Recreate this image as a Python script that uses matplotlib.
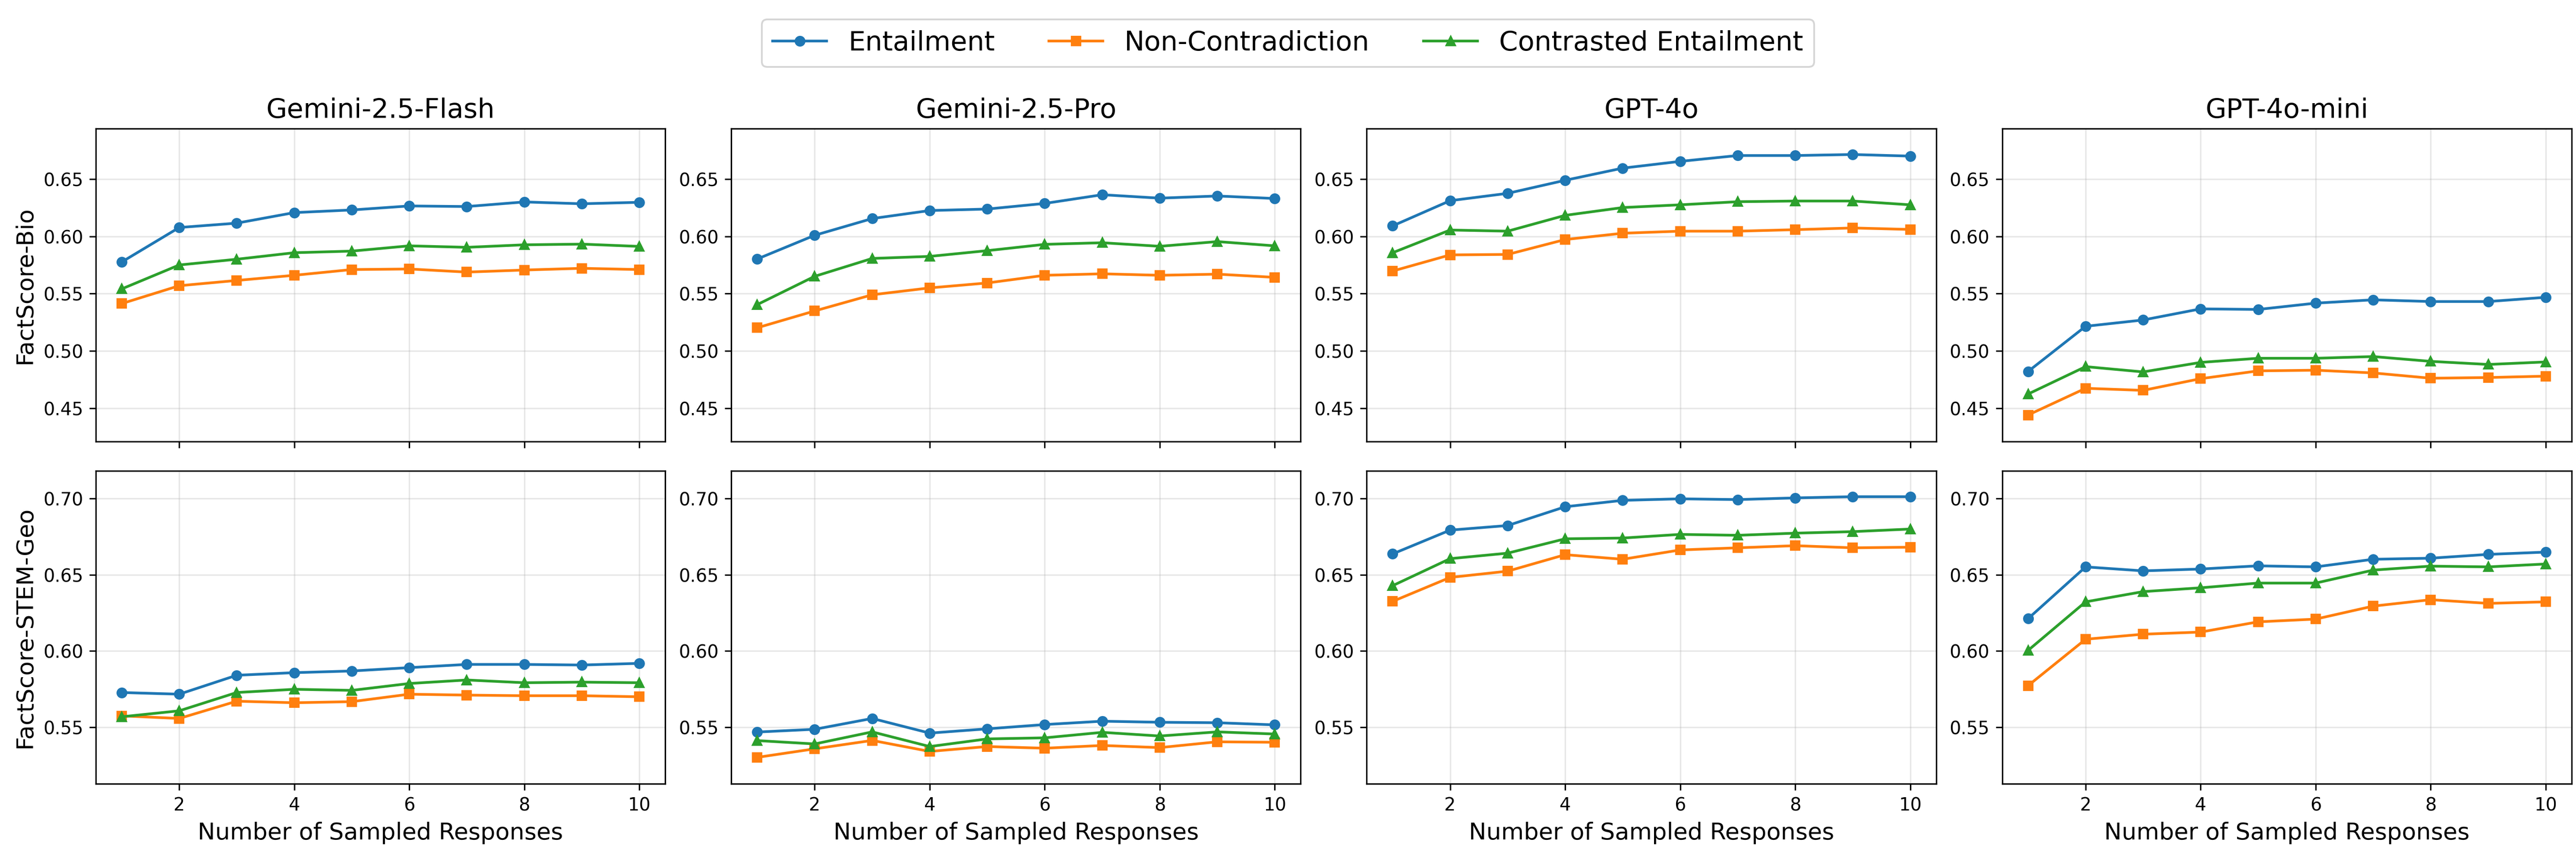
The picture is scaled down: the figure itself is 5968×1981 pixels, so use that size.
import matplotlib
matplotlib.use("Agg")
import matplotlib.pyplot as plt

x = list(range(1, 11))
models = ["Gemini-2.5-Flash", "Gemini-2.5-Pro", "GPT-4o", "GPT-4o-mini"]
datasets = ["FactScore-Bio", "FactScore-STEM-Geo"]
methods = ["Entailment", "Non-Contradiction", "Contrasted Entailment"]

# FactScore-Bio
bio_flash_ent = [0.5776, 0.6077, 0.6115, 0.6207, 0.6230, 0.6265, 0.6260, 0.6300, 0.6284, 0.6297]
bio_flash_nc = [0.5413, 0.5569, 0.5615, 0.5660, 0.5710, 0.5715, 0.5688, 0.5706, 0.5721, 0.5710]
bio_flash_ce = [0.5541, 0.5750, 0.5800, 0.5857, 0.5871, 0.5917, 0.5904, 0.5926, 0.5932, 0.5912]

bio_pro_ent = [0.5802, 0.6009, 0.6155, 0.6225, 0.6238, 0.6287, 0.6363, 0.6333, 0.6352, 0.6330]
bio_pro_nc = [0.5202, 0.5349, 0.5490, 0.5550, 0.5593, 0.5660, 0.5673, 0.5660, 0.5670, 0.5642]
bio_pro_ce = [0.5404, 0.5651, 0.5807, 0.5825, 0.5875, 0.5930, 0.5944, 0.5913, 0.5954, 0.5917]

bio_4o_ent = [0.6091, 0.6311, 0.6375, 0.6489, 0.6595, 0.6654, 0.6705, 0.6705, 0.6714, 0.6700]
bio_4o_nc = [0.5697, 0.5838, 0.5842, 0.5972, 0.6027, 0.6045, 0.6045, 0.6058, 0.6073, 0.6060]
bio_4o_ce = [0.5857, 0.6055, 0.6045, 0.6183, 0.6251, 0.6275, 0.6302, 0.6308, 0.6308, 0.6275]

bio_mini_ent = [0.4821, 0.5215, 0.5270, 0.5367, 0.5362, 0.5417, 0.5446, 0.5431, 0.5431, 0.5468]
bio_mini_nc = [0.4441, 0.4674, 0.4656, 0.4758, 0.4826, 0.4832, 0.4808, 0.4762, 0.4768, 0.4780]
bio_mini_ce = [0.4624, 0.4863, 0.4817, 0.4900, 0.4936, 0.4936, 0.4951, 0.4909, 0.4882, 0.4904]

# FactScore-STEM-Geo
geo_flash_ent = [0.5728, 0.5717, 0.5841, 0.5858, 0.5869, 0.5891, 0.5912, 0.5912, 0.5908, 0.5919]
geo_flash_nc = [0.5575, 0.5558, 0.5671, 0.5661, 0.5668, 0.5717, 0.5711, 0.5707, 0.5707, 0.5700]
geo_flash_ce = [0.5569, 0.5608, 0.5728, 0.5749, 0.5742, 0.5787, 0.5810, 0.5792, 0.5796, 0.5792]

geo_pro_ent = [0.5469, 0.5487, 0.5558, 0.5462, 0.5490, 0.5518, 0.5540, 0.5533, 0.5530, 0.5516]
geo_pro_nc = [0.5303, 0.5359, 0.5414, 0.5342, 0.5374, 0.5363, 0.5381, 0.5367, 0.5405, 0.5402]
geo_pro_ce = [0.5413, 0.5391, 0.5470, 0.5374, 0.5424, 0.5431, 0.5467, 0.5443, 0.5470, 0.5456]

geo_4o_ent = [0.6636, 0.6792, 0.6822, 0.6945, 0.6987, 0.6997, 0.6992, 0.7003, 0.7011, 0.7011]
geo_4o_nc = [0.6325, 0.6482, 0.6523, 0.6631, 0.6601, 0.6662, 0.6676, 0.6690, 0.6676, 0.6680]
geo_4o_ce = [0.6428, 0.6605, 0.6641, 0.6735, 0.6740, 0.6764, 0.6758, 0.6772, 0.6782, 0.6799]

geo_mini_ent = [0.6212, 0.6551, 0.6525, 0.6537, 0.6558, 0.6551, 0.6601, 0.6608, 0.6633, 0.6648]
geo_mini_nc = [0.5773, 0.6077, 0.6110, 0.6124, 0.6191, 0.6209, 0.6294, 0.6336, 0.6312, 0.6322]
geo_mini_ce = [0.6004, 0.6322, 0.6389, 0.6414, 0.6445, 0.6445, 0.6530, 0.6556, 0.6551, 0.6570]

grid_data = [
    [(bio_flash_ent, bio_flash_nc, bio_flash_ce), (bio_pro_ent, bio_pro_nc, bio_pro_ce),
     (bio_4o_ent, bio_4o_nc, bio_4o_ce), (bio_mini_ent, bio_mini_nc, bio_mini_ce)],
    [(geo_flash_ent, geo_flash_nc, geo_flash_ce), (geo_pro_ent, geo_pro_nc, geo_pro_ce),
     (geo_4o_ent, geo_4o_nc, geo_4o_ce), (geo_mini_ent, geo_mini_nc, geo_mini_ce)],
]
row_ylim = [(0.421, 0.694), (0.513, 0.718)]
row_yticks = [[0.45, 0.50, 0.55, 0.60, 0.65], [0.55, 0.60, 0.65, 0.70]]

colors = ["#1f77b4", "#ff7f0e", "#2ca02c"]
markers = ["o", "s", "^"]

fig, axes = plt.subplots(2, 4, figsize=(5968 / 300, 1981 / 300), dpi=300, sharex=True)
fig.subplots_adjust(left=0.0372, right=0.9983, top=0.8496, bottom=0.0833,
                    wspace=0.116, hspace=0.094)

for r in range(2):
    for c in range(4):
        ax = axes[r, c]
        for k in range(3):
            ax.plot(x, grid_data[r][c][k], color=colors[k], marker=markers[k],
                    markersize=5, linewidth=1.5, label=methods[k])
        ax.set_ylim(*row_ylim[r])
        ax.set_yticks(row_yticks[r])
        ax.set_xticks([2, 4, 6, 8, 10])
        ax.grid(True, alpha=0.3)
        ax.tick_params(labelsize=10)
        if r == 0:
            ax.set_title(models[c], fontsize=15)
        else:
            ax.set_xlabel("Number of Sampled Responses", fontsize=13)
        if c == 0:
            ax.set_ylabel(datasets[r], fontsize=13)

handles, labels = axes[0, 0].get_legend_handles_labels()
fig.legend(handles, labels, loc="upper center", ncol=3, fontsize=15,
           bbox_to_anchor=(0.5, 0.993), frameon=True)

fig.savefig("out.png", dpi=300)
